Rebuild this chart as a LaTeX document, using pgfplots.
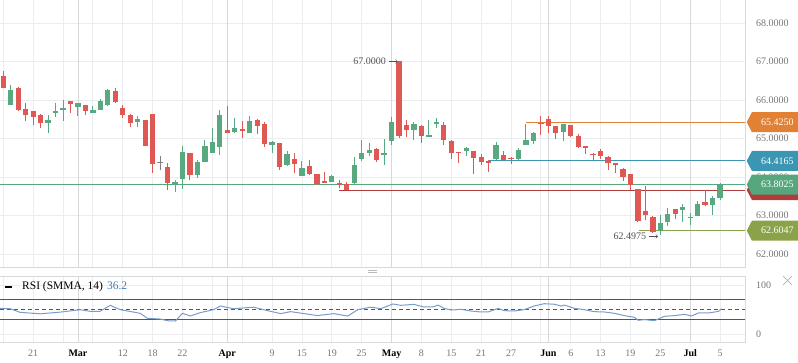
\documentclass[border=0pt]{standalone}
\usepackage{fontspec}
\setmainfont{Liberation Serif}
\usepackage{pgfplots}
\usepackage{pgfplotstable}
\pgfplotsset{compat=1.18}
\usepgfplotslibrary{fillbetween}
\usetikzlibrary{shapes.symbols}

\definecolor{cgreen}{RGB}{88,168,128}
\definecolor{cred}{RGB}{224,88,84}
\definecolor{cgray}{RGB}{128,128,128}
\definecolor{corange}{RGB}{226,128,52}
\definecolor{cblue}{RGB}{58,150,178}
\definecolor{cgreenlab}{RGB}{86,166,126}
\definecolor{credline}{RGB}{176,60,60}
\definecolor{colive}{RGB}{139,163,72}
\definecolor{rsiblue}{RGB}{122,156,204}
\definecolor{rsival}{RGB}{70,120,180}
\definecolor{gridc}{RGB}{235,237,240}
\definecolor{monthc}{RGB}{214,216,220}
\definecolor{borderc}{RGB}{214,217,221}
\definecolor{labgray}{RGB}{118,118,118}
\definecolor{anngray}{RGB}{80,80,80}
\definecolor{levelc}{RGB}{85,85,85}

\pgfplotstableread{
i o h l c
1 65.88 66.39 65.88 66.26
6 65.39 65.61 65.15 65.48
7 65.67 65.92 65.57 65.69
8 65.75 66.00 65.46 65.77
10 65.83 65.92 65.59 65.92
12 65.65 65.85 65.65 65.74
13 65.75 66.03 65.75 65.97
14 65.88 66.29 65.85 66.26
18 65.43 65.59 65.31 65.51
23 63.83 63.92 63.62 63.84
24 63.96 64.80 63.68 64.65
26 64.04 64.44 63.98 64.39
27 64.40 64.96 64.40 64.81
28 64.63 65.27 64.63 64.91
29 64.79 65.74 64.58 65.61
31 65.17 65.53 65.15 65.27
33 65.14 65.58 65.14 65.45
36 64.84 64.94 64.62 64.92
38 64.32 64.68 64.29 64.60
40 64.03 64.42 64.03 64.23
44 63.87 64.05 63.87 64.03
47 63.84 64.52 63.82 64.31
48 64.47 64.96 64.42 64.62
49 64.62 64.88 64.55 64.70
51 64.58 64.99 64.31 64.60
52 64.94 65.56 64.83 65.43
55 65.23 65.43 64.97 65.38
57 65.05 65.48 65.05 65.06
58 65.38 65.53 65.26 65.40
62 64.68 64.79 64.55 64.75
66 64.48 64.91 64.45 64.83
69 64.48 64.74 64.45 64.70
70 64.84 65.38 64.84 64.97
71 64.94 65.18 64.86 65.14
75 65.18 65.38 64.94 65.38
88 62.60 63.01 62.4975 62.81
89 62.84 63.19 62.73 63.04
91 63.13 63.30 62.83 63.22
92 62.93 63.06 62.76 62.94
93 62.99 63.38 62.99 63.30
95 63.27 63.50 63.00 63.45
96 63.45 63.84 63.40 63.8025
}\greentab

\pgfplotstableread{
i o h l c
0 66.62 66.75 66.30 66.30
2 66.31 66.34 65.71 65.74
3 65.77 65.92 65.46 65.62
4 65.71 65.71 65.36 65.57
5 65.61 65.64 65.28 65.39
9 65.97 65.97 65.67 65.90
11 65.87 65.87 65.62 65.72
15 66.23 66.31 65.92 65.95
16 65.79 65.87 65.54 65.62
17 65.61 65.64 65.31 65.39
19 65.48 65.48 64.80 64.80
20 65.64 65.64 64.11 64.35
22 64.26 64.36 63.65 63.85
25 64.62 64.62 63.91 64.06
30 65.22 65.84 65.14 65.14
32 65.22 65.45 65.01 65.20
34 65.48 65.51 65.12 65.32
35 65.38 65.43 64.79 64.86
37 64.88 64.88 64.18 64.26
39 64.47 64.62 64.10 64.34
41 64.29 64.44 64.05 64.08
42 64.08 64.08 63.79 63.82
43 63.87 64.13 63.85 63.85
45 63.84 63.92 63.71 63.79
46 63.82 63.87 63.66 63.66
50 64.73 64.75 64.39 64.44
53 67.00 67.00 65.00 65.07
54 65.35 65.48 65.05 65.23
56 65.32 65.35 64.89 65.07
59 65.35 65.43 64.84 64.97
60 64.93 64.96 64.48 64.63
61 64.64 64.64 64.37 64.62
63 64.67 64.67 64.09 64.50
64 64.52 64.60 64.32 64.40
65 64.39 64.45 64.14 64.37
67 64.57 64.67 64.42 64.45
68 64.48 64.51 64.35 64.46
72 65.39 65.58 65.09 65.37
73 65.51 65.58 65.14 65.32
74 65.32 65.32 64.99 65.15
76 65.35 65.35 65.03 65.07
77 65.06 65.12 64.74 64.79
78 64.81 64.81 64.60 64.76
79 64.60 64.63 64.42 64.56
80 64.68 64.73 64.47 64.55
81 64.53 64.55 64.18 64.37
82 64.36 64.36 64.11 64.30
83 64.21 64.23 63.90 64.01
84 64.08 64.08 63.66 63.79
85 63.68 63.68 62.83 62.86
86 63.12 63.77 62.89 63.00
87 62.96 62.99 62.55 62.57
90 63.17 63.17 62.91 63.05
94 63.35 63.66 63.25 63.28
}\redtab

\pgfplotstableread{
i o h l c
21 64.36 64.55 64.17 64.36
}\graytab

\pgfplotstableread{
x r
-0.44 52.7
0.9 52
2.24 44.6
4.93 41.6
7.61 45
10.3 49.9
11.64 46.6
12.98 46.8
14.32 58.8
15.66 50
18.35 42.6
19.29 32.5
21.03 31
21.97 27.6
23.05 27
23.99 42.6
25.06 37.2
26.4 44
28.15 50
29.09 57.4
30.83 52
33.52 55
35.4 48
37.14 42
38.48 46
39.83 43
42.11 38
44.26 42
46.13 37
47.48 50
49.22 55
50.56 52
52.17 61.5
53.25 58.8
54.99 60.8
56.33 55.4
57.68 56
58.21 59.4
59.02 52.7
59.96 49.3
61.3 50.7
62.64 47.3
63.99 45.3
64.93 45.3
66.27 52.7
67.08 48
68.42 47.3
69.76 50
71.1 57.4
72.44 62.1
73.79 61
74.73 57.4
75.13 59.4
76.47 52.7
77.81 50
79.15 46
80.5 45.3
81.84 42.6
83.18 37.9
84.52 34.5
85.06 28.4
85.87 29.8
87.21 27.7
88.55 36.5
89.89 37.9
91.23 40.6
92.17 37.2
93.11 43.3
94.46 43.3
95.8 46.6
96.2 52
}\rsitab

\pgfplotsset{
  panel/.style={
    width=745bp, scale only axis,
    xmin=-0.442, xmax=99.34,
    axis line style={draw=none},
    tick style={draw=none},
    major tick length=0pt,
    xtick={0,4,...,96},
    xmajorgrids, ymajorgrids,
    grid style={draw=gridc, line width=0.8bp},
    extra x ticks={10,30,52,73,92},
    extra x tick style={grid style={draw=monthc, line width=0.9bp}},
    yticklabel pos=right,
    yticklabel style={anchor=west, inner sep=0pt, xshift=11bp,
      font=\fontsize{10bp}{12bp}\selectfont, text=labgray},
    xticklabel style={font=\fontsize{10bp}{12bp}\selectfont, text=labgray},
    clip=false,
  },
  wick/.style={draw=none, mark=none, forget plot,
    error bars/.cd, y dir=plus, y explicit, error mark=none,
    error bar style={line width=1bp, draw=#1, solid}},
  body/.style={draw=none, mark=none, forget plot,
    error bars/.cd, y dir=plus, y explicit, error mark=none,
    error bar style={line width=5.3bp, draw=#1, solid}},
}

\begin{document}
\begin{tikzpicture}
% ---------------- main price panel
\begin{axis}[panel,
  at={(0bp,0bp)}, anchor=north west,
  height=267bp,
  ymin=61.662, ymax=68.597,
  ytick={62,63,64,65,66,67,68},
  yticklabels={62.0000,63.0000,64.0000,65.0000,66.0000,67.0000,68.0000},
  xticklabels={}, extra x tick labels={},
]
\draw[borderc, line width=0.8bp] (rel axis cs:1,1) -- (rel axis cs:1,0) -- (rel axis cs:0,0);

% price lines
\addplot[cgreenlab, line width=1bp] coordinates {(-0.442,63.8025) (99.34,63.8025)};
\addplot[credline, line width=1bp] coordinates {(45,63.66) (99.34,63.66)};
\addplot[cblue, line width=1bp] coordinates {(65,64.4165) (99.34,64.4165)};
\addplot[corange, line width=1bp] coordinates {(70,65.425) (99.34,65.425)};
\addplot[colive, line width=1bp] coordinates {(85.2,62.6047) (99.34,62.6047)};

% candles
\addplot[wick=cgreen] table[x=i, y=l, y error plus expr=\thisrow{h}-\thisrow{l}] {\greentab};
\addplot[body=cgreen] table[x=i, y expr={min(\thisrow{o},\thisrow{c})}, y error plus expr={max(abs(\thisrow{o}-\thisrow{c}),0.04)}] {\greentab};
\addplot[wick=cred] table[x=i, y=l, y error plus expr=\thisrow{h}-\thisrow{l}] {\redtab};
\addplot[body=cred] table[x=i, y expr={min(\thisrow{o},\thisrow{c})}, y error plus expr={max(abs(\thisrow{o}-\thisrow{c}),0.04)}] {\redtab};
\addplot[wick=cgray] table[x=i, y=l, y error plus expr=\thisrow{h}-\thisrow{l}] {\graytab};
\addplot[body=cgray] table[x=i, y expr={min(\thisrow{o},\thisrow{c})}, y error plus expr={max(abs(\thisrow{o}-\thisrow{c}),0.04)}] {\graytab};

% annotations
\node[anchor=east, inner sep=0pt, font=\fontsize{10bp}{12bp}\selectfont, text=anngray]
  at (axis cs:53,67) [xshift=-13bp] {67.0000};
\draw[->, anngray, line width=0.6bp] ([xshift=-10bp]axis cs:53,67) -- ([xshift=-1.5bp]axis cs:53,67);
\node[anchor=east, inner sep=0pt, font=\fontsize{10bp}{12bp}\selectfont, text=anngray]
  at (axis cs:88,62.4975) [xshift=-14bp, yshift=-1.5bp] {62.4975};
\draw[->, anngray, line width=0.6bp] ([xshift=-11bp, yshift=-1.5bp]axis cs:88,62.4975) -- ([xshift=-2.5bp, yshift=-1.5bp]axis cs:88,62.4975);

% price labels
\tikzset{plab/.style={signal, signal to=west, signal pointer angle=125,
  text=white, minimum height=20bp, minimum width=56bp, inner sep=0pt,
  anchor=west, font=\fontsize{10bp}{12bp}\selectfont}}
\node[plab, fill=corange] at (axis cs:99.34,65.425) [xshift=1.5bp] {65.4250};
\node[plab, fill=cblue] at (axis cs:99.34,64.4165) [xshift=1.5bp] {64.4165};
\node[plab, fill=credline] at (axis cs:99.34,63.66) [xshift=1.5bp] {};
\node[plab, fill=cgreenlab] at (axis cs:99.34,63.8025) [xshift=1.5bp] {63.8025};
\node[plab, fill=colive] at (axis cs:99.34,62.6047) [xshift=1.5bp] {62.6047};
\end{axis}

% ---------------- RSI panel
\begin{axis}[panel,
  at={(0bp,-276bp)}, anchor=north west,
  height=66bp,
  ymin=-15.6, ymax=118.3,
  ytick={0,100},
  yticklabels={0,100},
  xticklabels={,21,,,12,18,22,,,9,15,19,25,,8,15,21,27,,6,13,19,25,,5},
  extra x tick labels={\textbf{\textcolor{black}{Mar}},\textbf{\textcolor{black}{Apr}},\textbf{\textcolor{black}{May}},\textbf{\textcolor{black}{Jun}},\textbf{\textcolor{black}{Jul}}},
  xticklabel style={yshift=-4bp},
]
\draw[borderc, line width=0.8bp] (rel axis cs:0,1) -- (rel axis cs:1,1) -- (rel axis cs:1,0) -- (rel axis cs:0,0);
\addplot[levelc, line width=1bp] coordinates {(-0.442,70) (99.34,70)};
\addplot[levelc, line width=1bp, name path=thirty] coordinates {(-0.442,30) (99.34,30)};
\addplot[levelc, line width=1bp, dash pattern=on 4bp off 3bp] coordinates {(-0.442,50) (99.34,50)};
\addplot[draw=none, name path=rsi] table[x=x, y=r] {\rsitab};
\addplot[fill=cred!75, draw=none] fill between[of=rsi and thirty,
  soft clip={(axis cs:-1,-20) rectangle (axis cs:100,30)}];
\addplot[rsiblue, line width=1bp] table[x=x, y=r] {\rsitab};
\end{axis}

% legend and decorations
\draw[black, line width=2bp] (5bp,-287bp) -- (12bp,-287bp);
\node[anchor=west, inner sep=0pt, font=\fontsize{11.5bp}{13bp}\selectfont] at (22bp,-287bp)
  {RSI (SMMA, 14)\hspace{4bp}\textcolor{rsival}{36.2}};
\draw[gray!55, line width=0.7bp] (368bp,-270bp) -- (377bp,-270bp);
\draw[gray!55, line width=0.7bp] (368bp,-272.5bp) -- (377bp,-272.5bp);
\draw[gray!60, line width=0.7bp] (783bp,-276bp) -- (792bp,-285bp);
\draw[gray!60, line width=0.7bp] (783bp,-285bp) -- (792bp,-276bp);

\pgfresetboundingbox
\path[use as bounding box] (0bp,0bp) rectangle (798bp,-363bp);
\end{tikzpicture}
\end{document}
